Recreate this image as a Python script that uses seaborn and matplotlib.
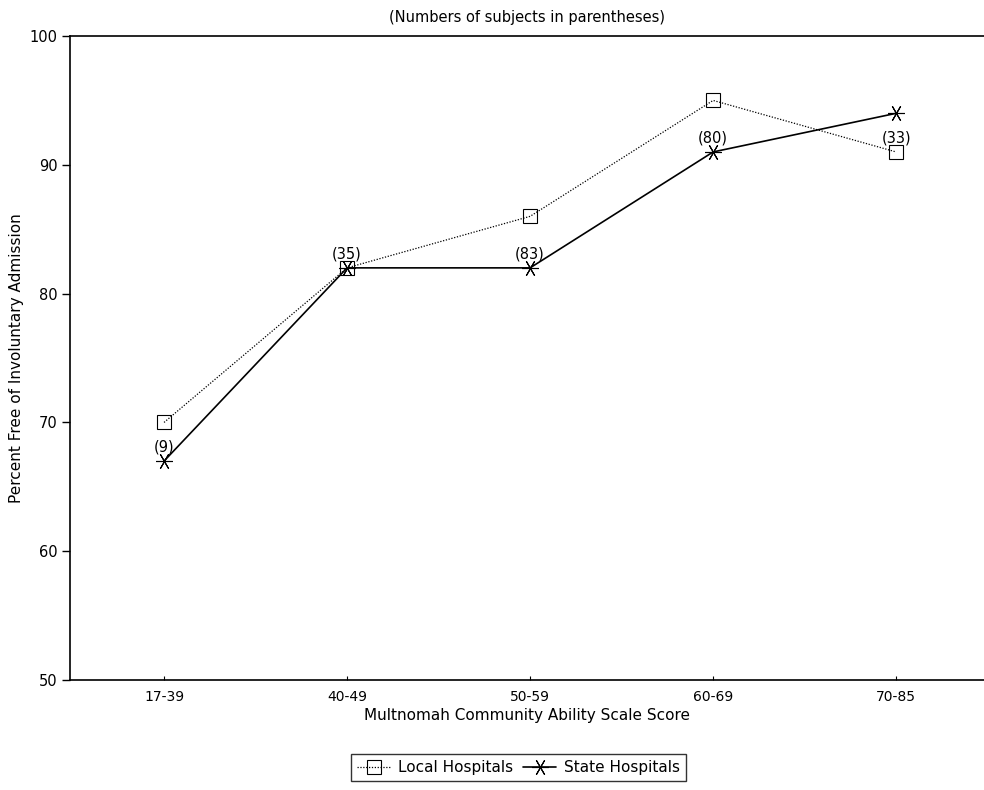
import numpy as np
import pandas as pd
import matplotlib
matplotlib.use('Agg')
import matplotlib.pyplot as plt
import seaborn as sns

score_groups = ['17-39', '40-49', '50-59', '60-69', '70-85']
local_pct = [70, 82, 86, 95, 91]
state_pct = [67, 82, 82, 91, 94]
n_labels = ['(9)', '(35)', '(83)', '(80)', '(33)']
# which series each count label sits over
n_label_y = [67, 82, 82, 91, 91]

df = pd.DataFrame({
    'Score': score_groups * 2,
    'Percent': local_pct + state_pct,
    'Group': ['Local Hospitals'] * 5 + ['State Hospitals'] * 5,
})
df['x'] = df['Score'].map({s: i for i, s in enumerate(score_groups)})

sns.set_style('ticks')
plt.rcParams['font.family'] = ['DejaVu Sans']
plt.rcParams['text.color'] = 'black'
plt.rcParams['axes.labelcolor'] = 'black'
plt.rcParams['xtick.color'] = 'black'
plt.rcParams['ytick.color'] = 'black'

fig = plt.figure(figsize=(9.84, 7.9), dpi=100)
ax = fig.add_axes([0.0711, 0.1392, 0.9289, 0.8152])

local = df[df['Group'] == 'Local Hospitals']
state = df[df['Group'] == 'State Hospitals']
sns.lineplot(data=local, x='x', y='Percent', ax=ax, color='black', linewidth=0.9,
             linestyle=(0, (1, 1.3)), marker='s', markersize=10, markerfacecolor='none',
             markeredgecolor='black', markeredgewidth=0.8, label='Local Hospitals')
sns.lineplot(data=state, x='x', y='Percent', ax=ax, color='black', linewidth=1.2,
             marker=(6, 2, 90), markersize=12, markeredgewidth=0.8,
             markeredgecolor='black', label='State Hospitals')

for i, (txt, yv) in enumerate(zip(n_labels, n_label_y)):
    ax.annotate(txt, (i, yv), xytext=(0, 10), textcoords='offset points',
                ha='center', va='center', fontsize=10.5)

ax.set_xlim(-0.514, 4.48)
ax.set_ylim(50, 100)
ax.set_xticks(range(len(score_groups)))
ax.set_xticklabels(score_groups, fontsize=10)
ax.set_yticks(np.arange(50, 101, 10))
ax.tick_params(axis='y', direction='out', length=6, width=1, labelsize=10.5, pad=3)
ax.tick_params(axis='x', direction='in', length=3, width=0.8, labelsize=10, pad=7)
for side in ['left', 'bottom', 'top']:
    ax.spines[side].set_color('black')
    ax.spines[side].set_linewidth(1.2)
ax.spines['right'].set_visible(False)

ax.set_xlabel('Multnomah Community Ability Scale Score', fontsize=11, labelpad=3)
ax.set_ylabel('Percent Free of Involuntary Admission', fontsize=11, labelpad=4)
ax.set_title('(Numbers of subjects in parentheses)', fontsize=10.5, pad=10)

leg = ax.legend(loc='center', bbox_to_anchor=(0.527, 0.028), bbox_transform=fig.transFigure,
                ncol=2, frameon=True, fancybox=False, edgecolor='black', fontsize=11,
                handlelength=2.2, columnspacing=0.6, handletextpad=0.5, borderpad=0.4)
leg.get_frame().set_linewidth(1.0)

fig.savefig('out.png', dpi=100)
